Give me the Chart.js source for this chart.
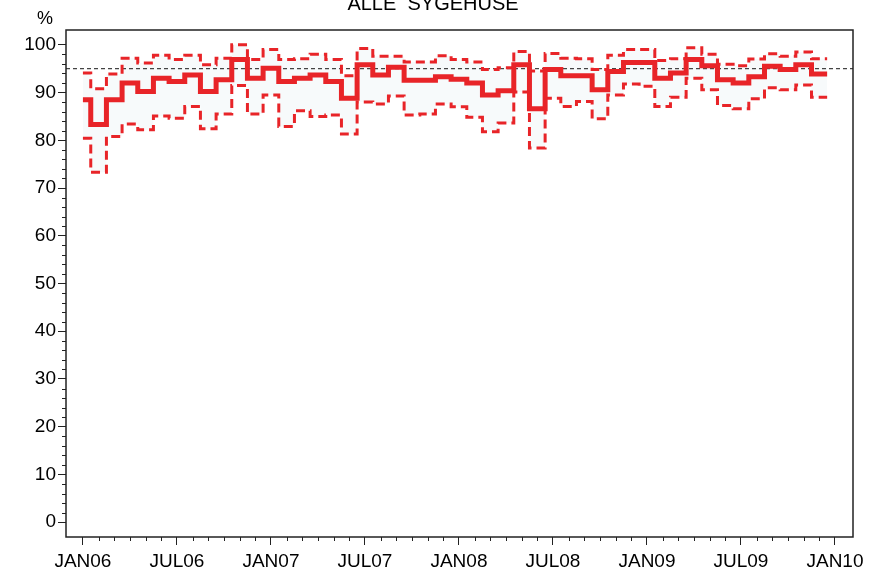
<!DOCTYPE html>
<html lang="da">
<head>
<meta charset="UTF-8">
<title>Alle sygehuse</title>
<script src="https://cdn.jsdelivr.net/npm/chart.js"></script>
<style>
  html, body { margin: 0; padding: 0; background: #fff; }
</style>
</head>
<body>
<canvas id="chart" width="878" height="582"></canvas>
<script>
// monthly values, index 0 = JAN06 ... index 47 = DEC09
const andel = [88.5, 83.3, 88.5, 92.0, 90.2, 93.0, 92.3, 93.7, 90.2, 92.7, 96.9, 93.0,
               95.1, 92.3, 93.0, 93.7, 92.3, 88.8, 95.8, 93.7, 95.3, 92.6, 92.6, 93.3,
               92.8, 92.0, 89.5, 90.4, 95.8, 86.6, 94.8, 93.5, 93.5, 90.6, 94.4, 96.3,
               96.3, 93.0, 94.1, 96.9, 95.6, 92.7, 92.0, 93.3, 95.5, 94.8, 95.8, 93.9];
const oevre = [94.1, 90.8, 93.9, 97.2, 96.2, 97.8, 96.9, 97.8, 95.8, 97.2, 100.0, 96.9,
               99.0, 96.9, 97.1, 98.0, 96.9, 93.5, 99.2, 97.6, 97.6, 96.4, 96.4, 97.7,
               96.9, 96.4, 94.8, 95.2, 98.6, 94.5, 98.2, 97.2, 97.1, 94.8, 97.8, 99.0,
               99.0, 96.7, 97.1, 99.4, 98.0, 95.9, 95.6, 97.0, 98.1, 97.6, 98.5, 97.1];
const nedre = [80.4, 73.3, 80.8, 83.4, 82.2, 85.1, 84.6, 87.1, 82.4, 85.5, 91.5, 85.5,
               89.5, 82.9, 86.2, 85.0, 85.3, 81.3, 88.0, 87.6, 89.3, 85.3, 85.5, 87.6,
               87.0, 84.8, 81.8, 83.6, 90.1, 78.4, 88.8, 87.1, 88.1, 84.5, 89.5, 91.8,
               91.3, 87.1, 89.0, 93.0, 90.6, 87.3, 86.6, 88.7, 91.0, 90.6, 91.6, 89.0];
const standard = 95;
const xTickLabels = ['JAN06', 'JUL06', 'JAN07', 'JUL07', 'JAN08', 'JUL08', 'JAN09', 'JUL09', 'JAN10'];
const yTicks = [0, 10, 20, 30, 40, 50, 60, 70, 80, 90, 100];

const X_MIN = -1.08, X_MAX = 49.15;
const RED = 'rgb(232, 36, 40)';
const FONT = '"Liberation Sans", Arial, sans-serif';

// each month drawn as a flat step centred on the month
function steps(values) {
  const pts = [];
  values.forEach((v, i) => {
    pts.push({ x: i === 0 ? 0 : i - 0.5, y: v });
    pts.push({ x: i + 0.5, y: v });
  });
  return pts;
}

// frame, minor ticks, title and unit label
const decor = {
  id: 'decor',
  afterDraw(chart) {
    const ctx = chart.ctx;
    const a = chart.chartArea;
    const xs = chart.scales.x, ys = chart.scales.y;
    ctx.save();
    ctx.strokeStyle = '#222';
    ctx.lineWidth = 1.5;
    ctx.strokeRect(a.left, a.top, a.right - a.left, a.bottom - a.top);

    ctx.lineWidth = 1;
    ctx.beginPath();
    for (let m = 0; m <= 48; m++) {
      if (m % 6 === 0) continue;
      const px = Math.round(xs.getPixelForValue(m)) + 0.5;
      ctx.moveTo(px, a.bottom);
      ctx.lineTo(px, a.bottom + 4);
    }
    for (let v = 0; v <= 100; v += 2) {
      if (v % 10 === 0) continue;
      const py = Math.round(ys.getPixelForValue(v)) + 0.5;
      ctx.moveTo(a.left - 4, py);
      ctx.lineTo(a.left, py);
    }
    ctx.stroke();

    ctx.fillStyle = '#000';
    ctx.textAlign = 'center';
    ctx.textBaseline = 'alphabetic';
    ctx.font = '20px ' + FONT;
    ctx.fillText('ALLE  SYGEHUSE', 433, 9.5);
    ctx.font = '18px ' + FONT;
    ctx.fillText('%', 45, 24);
    ctx.restore();
  }
};

new Chart(document.getElementById('chart'), {
  type: 'line',
  data: {
    datasets: [
      {
        data: steps(andel),
        borderColor: RED,
        borderWidth: 5,
        pointRadius: 0,
        fill: false,
        order: 0
      },
      {
        data: steps(oevre),
        borderColor: RED,
        borderWidth: 3,
        borderDash: [9, 5],
        pointRadius: 0,
        fill: 2,
        backgroundColor: 'rgba(220, 230, 236, 0.22)',
        order: 1
      },
      {
        data: steps(nedre),
        borderColor: RED,
        borderWidth: 3,
        borderDash: [9, 5],
        pointRadius: 0,
        fill: false,
        order: 2
      },
      {
        data: [{ x: X_MIN, y: standard }, { x: X_MAX, y: standard }],
        borderColor: '#444',
        borderWidth: 1.2,
        borderDash: [4, 3],
        pointRadius: 0,
        fill: false,
        order: 3
      }
    ]
  },
  options: {
    responsive: false,
    devicePixelRatio: 1,
    animation: false,
    layout: { padding: { top: 30, right: 25, left: 0, bottom: 0 } },
    plugins: {
      legend: { display: false },
      tooltip: { enabled: false },
      filler: { drawTime: 'beforeDatasetsDraw' }
    },
    scales: {
      x: {
        type: 'linear',
        min: X_MIN,
        max: X_MAX,
        afterBuildTicks: s => { s.ticks = xTickLabels.map((l, k) => ({ value: k * 6 })); },
        afterFit: s => { s.height = 45; },
        border: { display: false },
        grid: { drawOnChartArea: false, tickLength: 8, tickColor: '#222' },
        ticks: {
          callback: v => xTickLabels[Math.round(v / 6)],
          font: { family: FONT, size: 19 },
          color: '#000',
          padding: 5,
          maxRotation: 0,
          autoSkip: false
        }
      },
      y: {
        min: -3.1,
        max: 103.1,
        afterBuildTicks: s => { s.ticks = yTicks.map(v => ({ value: v })); },
        afterFit: s => { s.width = 66; },
        border: { display: false },
        grid: { drawOnChartArea: false, tickLength: 8, tickColor: '#222' },
        ticks: {
          callback: v => String(v),
          font: { family: FONT, size: 19 },
          color: '#000',
          padding: 2
        }
      }
    }
  },
  plugins: [decor]
});
</script>
</body>
</html>
